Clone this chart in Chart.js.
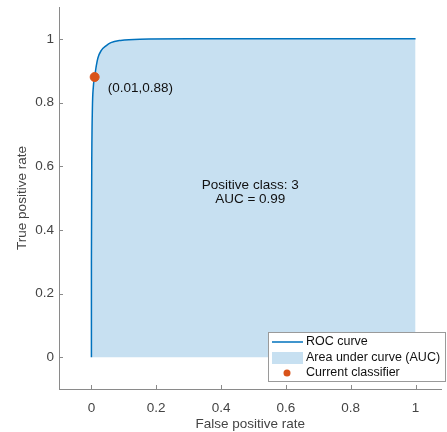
<!DOCTYPE html>
<html>
<head>
<meta charset="utf-8">
<script src="https://cdn.jsdelivr.net/npm/chart.js@4"></script>
<style>
  html, body { margin: 0; padding: 0; background: #fff; }
  #wrap { width: 447px; height: 432px; }
</style>
</head>
<body>
<div id="wrap"><canvas id="roc"></canvas></div>
<script>
// ROC curve points (false positive rate, true positive rate)
const fpr = [0, 0, 0.001, 0.003, 0.006, 0.01, 0.015, 0.02, 0.03, 0.045, 0.06, 0.09, 0.15, 0.3, 1];
const tpr = [0, 0.3, 0.6, 0.78, 0.85, 0.88, 0.915, 0.94, 0.963, 0.978, 0.988, 0.995, 0.999, 1, 1];
const classifier = [0.01, 0.88];
const xTicks = [0, 0.2, 0.4, 0.6, 0.8, 1];
const yTicks = [0, 0.2, 0.4, 0.6, 0.8, 1];
const notes = ['Positive class: 3', 'AUC = 0.99'];
const legendLabels = ['ROC curve', 'Area under curve (AUC)', 'Current classifier'];

const FONT = '"Liberation Sans", Arial, Helvetica, sans-serif';
const BLUE = '#0072BD';
const FILL = 'rgba(0,114,189,0.22)';
const ORANGE = '#D95319';
const AXIS = '#8a8a8a';
const TEXT = '#444';

// inward tick marks, text annotations and the legend box
const extras = {
  id: 'extras',
  afterDraw(chart) {
    const {ctx, chartArea: a, scales: {x, y}} = chart;
    ctx.save();
    ctx.strokeStyle = AXIS;
    ctx.lineWidth = 1;
    xTicks.forEach(v => {
      const px = Math.round(x.getPixelForValue(v)) + 0.5;
      ctx.beginPath(); ctx.moveTo(px, a.bottom); ctx.lineTo(px, a.bottom - 4); ctx.stroke();
    });
    yTicks.forEach(v => {
      const py = Math.round(y.getPixelForValue(v)) + 0.5;
      ctx.beginPath(); ctx.moveTo(a.left, py); ctx.lineTo(a.left + 4, py); ctx.stroke();
    });

    ctx.fillStyle = '#111';
    ctx.font = '13.5px ' + FONT;
    ctx.textBaseline = 'middle';
    ctx.textAlign = 'left';
    ctx.fillText('(' + classifier[0] + ',' + classifier[1] + ')',
      x.getPixelForValue(classifier[0]) + 13, y.getPixelForValue(classifier[1]) + 11);

    ctx.textAlign = 'center';
    ctx.fillText(notes[0], x.getPixelForValue(0.49), y.getPixelForValue(0.54));
    ctx.fillText(notes[1], x.getPixelForValue(0.49), y.getPixelForValue(0.496));

    // legend
    const lx = 268, ly = 332, lw = 178, lh = 50;
    ctx.fillStyle = '#fff';
    ctx.fillRect(lx, ly, lw, lh);
    ctx.strokeStyle = '#9a9a9a';
    ctx.lineWidth = 1;
    ctx.strokeRect(lx + 0.5, ly + 0.5, lw - 1, lh - 1);
    ctx.font = '12.5px ' + FONT;
    ctx.textAlign = 'left';
    const rows = [ly + 10, ly + 26, ly + 41];
    ctx.strokeStyle = BLUE; ctx.lineWidth = 1.5;
    ctx.beginPath(); ctx.moveTo(lx + 4, rows[0]); ctx.lineTo(lx + 35, rows[0]); ctx.stroke();
    ctx.fillStyle = FILL;
    ctx.fillRect(lx + 4, rows[1] - 6, 31, 12);
    ctx.fillStyle = ORANGE;
    ctx.beginPath(); ctx.arc(lx + 19, rows[2], 3.5, 0, Math.PI * 2); ctx.fill();
    ctx.fillStyle = '#111';
    legendLabels.forEach((t, i) => ctx.fillText(t, lx + 38, rows[i]));
    ctx.restore();
  }
};

new Chart(document.getElementById('roc'), {
  type: 'scatter',
  data: {
    datasets: [
      {
        label: legendLabels[2],
        data: [{x: classifier[0], y: classifier[1]}],
        backgroundColor: ORANGE,
        borderColor: ORANGE,
        pointRadius: 4.5,
        order: 0
      },
      {
        label: legendLabels[0],
        data: fpr.map((v, i) => ({x: v, y: tpr[i]})),
        showLine: true,
        borderColor: BLUE,
        borderWidth: 1.5,
        backgroundColor: FILL,
        fill: {value: 0},
        pointRadius: 0,
        cubicInterpolationMode: 'monotone',
        order: 1
      }
    ]
  },
  options: {
    responsive: true,
    maintainAspectRatio: false,
    animation: false,
    layout: {padding: {top: 7, right: 0, left: 14, bottom: 0}},
    plugins: {legend: {display: false}, tooltip: {enabled: false}},
    scales: {
      x: {
        type: 'linear',
        min: -0.1,
        max: 1.08,
        afterBuildTicks: s => { s.ticks = xTicks.map(v => ({value: v})); },
        afterFit: s => { s.height = 43; s.paddingLeft = 0; s.paddingRight = 0; },
        grid: {display: false, drawTicks: false},
        border: {display: true, color: AXIS, width: 1},
        ticks: {color: TEXT, font: {family: FONT, size: 13.5}, padding: 11, maxRotation: 0,
          callback: v => String(v)},
        title: {display: true, text: 'False positive rate', color: TEXT,
          font: {family: FONT, size: 13.5}, padding: {top: 1, bottom: 0}}
      },
      y: {
        type: 'linear',
        min: -0.1,
        max: 1.1,
        afterBuildTicks: s => { s.ticks = yTicks.map(v => ({value: v})); },
        afterFit: s => { s.width = 45; s.paddingTop = 0; s.paddingBottom = 0; },
        grid: {display: false, drawTicks: false},
        border: {display: true, color: AXIS, width: 1},
        ticks: {color: TEXT, font: {family: FONT, size: 13.5}, padding: 5,
          callback: v => String(v)},
        title: {display: true, text: 'True positive rate', color: TEXT,
          font: {family: FONT, size: 13.5}, padding: {top: 0, bottom: 0}}
      }
    }
  },
  plugins: [extras]
});
</script>
</body>
</html>
